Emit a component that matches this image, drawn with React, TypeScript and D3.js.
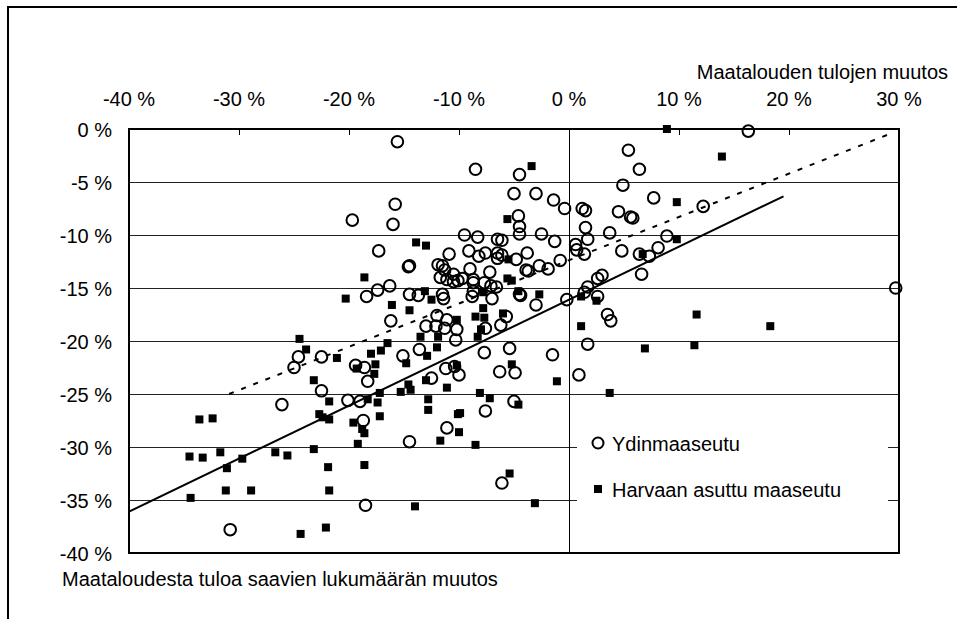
import { useEffect, useRef } from "react";
import * as d3 from "d3";

const xTicks = [-40, -30, -20, -10, 0, 10, 20, 30];
const yTicks = [0, -5, -10, -15, -20, -25, -30, -35, -40];

const xTitle = "Maatalouden tulojen muutos";
const yTitle = "Maataloudesta tuloa saavien lukumäärän muutos";
const seriesNames = ["Ydinmaaseutu", "Harvaan asuttu maaseutu"];

// [tulojen muutos %, lukumäärän muutos %]
const ydinmaaseutu: [number, number][] = [
  [-15.6, -1.2], [-8.5, -3.8], [-4.5, -4.3], [-5.0, -6.1], [-3.0, -6.1], [-1.4, -6.7], [-0.4, -7.5],
  [-15.8, -7.1], [-19.7, -8.6], [-16.0, -9.0], [-4.6, -8.2], [-4.5, -9.2], [-4.5, -9.9], [-2.5, -9.9],
  [-1.3, -10.6], [-9.5, -10.0], [-8.3, -10.2], [-6.5, -10.4], [-6.1, -10.5], [-17.3, -11.5], [-10.9, -11.8],
  [-9.1, -11.5], [-8.2, -12.0], [-7.6, -11.7], [-6.5, -11.7], [-6.1, -11.9], [-6.5, -12.2], [-4.8, -12.3],
  [-3.8, -11.7], [-0.8, -12.4], [-14.5, -12.9], [-14.6, -13.0], [-11.9, -12.8], [-11.5, -12.9], [-11.3, -13.3],
  [-9.0, -13.2], [-7.2, -13.5], [-3.9, -13.3], [-3.7, -13.4], [-2.7, -12.9], [-1.9, -13.2], [-11.7, -14.0],
  [-11.1, -14.2], [-10.5, -13.7], [-10.5, -14.4], [-10.1, -14.3], [-9.7, -14.1], [-8.7, -14.2], [-8.7, -14.5],
  [-7.7, -14.5], [-7.1, -14.8], [-6.6, -14.9], [-17.4, -15.2], [-16.3, -14.8], [-18.4, -15.8], [-14.5, -15.6],
  [-13.7, -15.7], [-11.5, -15.6], [-11.4, -16.0], [-8.8, -15.8], [-8.7, -15.3], [-7.0, -16.0], [-4.5, -15.6],
  [-4.4, -15.7], [-3.0, -16.6], [-0.2, -16.1], [-16.2, -18.1], [-12.0, -17.6], [-13.0, -18.6], [-12.1, -18.6],
  [-11.1, -18.0], [-11.3, -18.8], [-10.2, -18.9], [-10.3, -19.9], [-7.6, -18.8], [-6.2, -18.5], [-5.7, -17.7],
  [16.3, -0.2], [5.4, -2.0], [6.4, -3.8], [4.9, -5.3], [7.7, -6.5], [1.2, -7.5], [1.5, -7.7],
  [4.5, -7.8], [5.6, -8.3], [5.8, -8.4], [12.2, -7.3], [1.5, -9.3], [1.7, -10.4], [3.7, -9.8],
  [8.9, -10.1], [0.6, -10.9], [0.7, -11.4], [1.4, -11.8], [4.8, -11.5], [6.4, -11.8], [7.3, -12.0],
  [8.1, -11.2], [2.6, -14.1], [3.0, -13.8], [6.6, -13.7], [1.7, -14.9], [1.4, -15.4], [2.6, -15.8],
  [3.5, -17.5], [3.8, -18.1], [1.7, -20.3], [29.7, -15.0], [0.9, -23.2],
  [-24.6, -21.5], [-25.0, -22.5], [-22.5, -21.5], [-22.5, -24.7], [-26.1, -26.0], [-30.8, -37.8],
  [-15.1, -21.4], [-13.6, -20.8], [-7.7, -21.1], [-5.4, -20.7], [-1.5, -21.3], [-19.4, -22.3], [-18.6, -22.5],
  [-18.3, -23.8], [-11.2, -22.6], [-10.4, -22.4], [-10.0, -23.2], [-12.5, -23.5], [-6.3, -22.9], [-4.9, -23.0],
  [-20.1, -25.6], [-19.0, -25.7], [-5.0, -25.7], [-7.6, -26.6], [-18.7, -27.5], [-11.1, -28.2], [-14.5, -29.5],
  [-6.1, -33.4], [-18.5, -35.5],
];

const harvaanAsuttu: [number, number][] = [
  [-3.4, -3.5], [-5.6, -8.5], [-13.9, -10.7], [-13.0, -11.0], [-5.5, -12.3], [-18.6, -14.0], [-5.6, -14.1],
  [-5.2, -14.3], [-20.3, -16.0], [-16.1, -16.6], [-14.5, -17.1], [-13.1, -15.3], [-12.5, -16.1], [-7.8, -15.4],
  [-4.6, -15.3], [-2.7, -15.6], [-7.8, -16.9], [-8.5, -17.7], [-7.7, -17.8], [-6.0, -17.4], [-10.2, -18.0],
  [-8.0, -18.9], [-13.5, -19.6], [-11.9, -19.6], [-8.3, -19.6],
  [8.9, 0.0], [13.9, -2.6], [9.8, -6.9], [9.8, -10.4], [6.7, -11.8], [1.1, -15.8], [2.5, -16.2],
  [1.1, -18.6], [11.6, -17.5], [18.3, -18.6],
  [-24.5, -19.8], [-23.9, -20.8], [-21.1, -21.6], [-23.2, -23.7], [-21.8, -25.7], [-22.7, -26.9], [-22.4, -27.2],
  [-21.8, -27.4], [-33.6, -27.4], [-32.4, -27.3], [-34.5, -30.9], [-33.3, -31.0], [-31.7, -30.5], [-31.1, -32.0],
  [-29.7, -31.1], [-26.7, -30.5], [-25.6, -30.8], [-23.2, -30.2], [-21.9, -31.9], [-34.4, -34.8], [-31.2, -34.1],
  [-28.9, -34.1], [-21.8, -34.1], [-24.4, -38.2], [-22.1, -37.6],
  [-16.5, -20.2], [-17.1, -20.9], [-18.0, -21.2], [-17.6, -22.2], [-17.7, -23.1], [-19.3, -22.6], [-14.8, -22.1],
  [-12.9, -21.4], [-12.0, -20.6], [-10.2, -22.3], [-5.2, -22.2], [-1.1, -23.8], [-14.6, -24.1], [-14.4, -24.6],
  [-15.3, -24.8], [-17.2, -24.9], [-13.0, -23.7], [-11.1, -24.4], [-8.1, -24.9], [-7.2, -25.4], [-18.3, -25.5],
  [-17.4, -25.8], [-12.8, -25.5], [-12.8, -26.5], [-4.6, -26.0], [-17.2, -27.1], [-19.6, -27.7], [-18.8, -28.3],
  [-18.6, -28.7], [-10.1, -26.9], [-9.9, -26.8], [-10.0, -28.6], [-11.7, -29.4], [-19.2, -29.7], [-8.5, -29.8],
  [-18.6, -31.7], [-5.4, -32.5], [-14.0, -35.6], [-3.1, -35.3],
  [6.9, -20.7], [11.4, -20.4], [3.7, -24.9],
];

// trend line end points
const trendHarvaan: [number, number][] = [[-40, -36.1], [19.5, -6.35]];
const trendYdin: [number, number][] = [[-30.9, -25.0], [29.2, -0.45]];

const FONT = "'Liberation Sans', Arial, sans-serif";

export default function App() {
  const svgRef = useRef<SVGSVGElement>(null);

  useEffect(() => {
    if (!svgRef.current) return;
    const svg = d3.select(svgRef.current);
    svg.selectAll("*").remove();

    const left = 129, right = 899, top = 129, bottom = 553;

    const x = d3.scaleLinear().domain([-40, 30]).range([left, right]);
    const y = d3.scaleLinear().domain([0, -40]).range([top, bottom]);

    // outer frame
    svg.append("rect")
      .attr("x", 8).attr("y", 7)
      .attr("width", 1000).attr("height", 700)
      .attr("fill", "white")
      .attr("stroke", "#000").attr("stroke-width", 2);

    const g = svg.append("g");

    // gridlines
    g.selectAll(".grid")
      .data(yTicks.slice(1, -1))
      .enter()
      .append("line")
      .attr("x1", left).attr("x2", right)
      .attr("y1", d => Math.round(y(d)) + 0.5)
      .attr("y2", d => Math.round(y(d)) + 0.5)
      .attr("stroke", "#222").attr("stroke-width", 1);

    // zero line
    g.append("line")
      .attr("x1", Math.round(x(0)) + 0.5).attr("x2", Math.round(x(0)) + 0.5)
      .attr("y1", top).attr("y2", bottom)
      .attr("stroke", "#000").attr("stroke-width", 1);

    // top axis ticks
    g.selectAll(".xtick")
      .data(xTicks.slice(1, -1))
      .enter()
      .append("line")
      .attr("x1", d => Math.round(x(d)) + 0.5).attr("x2", d => Math.round(x(d)) + 0.5)
      .attr("y1", top).attr("y2", top + 6)
      .attr("stroke", "#000").attr("stroke-width", 1);

    // tick labels
    g.selectAll(".xlabel")
      .data(xTicks)
      .enter()
      .append("text")
      .attr("x", d => x(d)).attr("y", 106)
      .attr("text-anchor", "middle")
      .attr("font-family", FONT).attr("font-size", 20)
      .text(d => `${d} %`);

    g.selectAll(".ylabel")
      .data(yTicks)
      .enter()
      .append("text")
      .attr("x", 112).attr("y", d => y(d) + 7.5)
      .attr("text-anchor", "end")
      .attr("font-family", FONT).attr("font-size", 20)
      .text(d => `${d} %`);

    g.append("text")
      .attr("x", 948).attr("y", 79)
      .attr("text-anchor", "end")
      .attr("font-family", FONT).attr("font-size", 20)
      .text(xTitle);

    g.append("text")
      .attr("x", 62).attr("y", 586)
      .attr("font-family", FONT).attr("font-size", 20)
      .text(yTitle);

    // points
    g.selectAll(".sq")
      .data(harvaanAsuttu)
      .enter()
      .append("rect")
      .attr("x", d => x(d[0]) - 4).attr("y", d => y(d[1]) - 4)
      .attr("width", 8).attr("height", 8)
      .attr("fill", "#000");

    g.selectAll(".ci")
      .data(ydinmaaseutu)
      .enter()
      .append("circle")
      .attr("cx", d => x(d[0])).attr("cy", d => y(d[1]))
      .attr("r", 5.8)
      .attr("fill", "none")
      .attr("stroke", "#000").attr("stroke-width", 2);

    // trend lines
    const line = d3.line<[number, number]>().x(d => x(d[0])).y(d => y(d[1]));
    g.append("path")
      .datum(trendHarvaan)
      .attr("d", line)
      .attr("fill", "none").attr("stroke", "#000").attr("stroke-width", 2);
    g.append("path")
      .datum(trendYdin)
      .attr("d", line)
      .attr("fill", "none").attr("stroke", "#000").attr("stroke-width", 2)
      .attr("stroke-dasharray", "5,8");

    // plot border
    g.append("rect")
      .attr("x", left).attr("y", top)
      .attr("width", right - left).attr("height", bottom - top)
      .attr("fill", "none").attr("stroke", "#000").attr("stroke-width", 2);

    // legend
    const lg = g.append("g");
    lg.append("rect")
      .attr("x", 577).attr("y", 415)
      .attr("width", 311).attr("height", 110)
      .attr("fill", "white");
    lg.append("circle")
      .attr("cx", 598).attr("cy", 443).attr("r", 5.5)
      .attr("fill", "none").attr("stroke", "#000").attr("stroke-width", 2);
    lg.append("rect")
      .attr("x", 594).attr("y", 485).attr("width", 8).attr("height", 8)
      .attr("fill", "#000");
    lg.selectAll(".lt")
      .data(seriesNames)
      .enter()
      .append("text")
      .attr("x", 612).attr("y", (_d, i) => 450.5 + i * 46)
      .attr("font-family", FONT).attr("font-size", 20)
      .text(d => d);
  }, []);

  return (
    <svg
      ref={svgRef}
      width={957}
      height={619}
      style={{ position: "absolute", left: 0, top: 0, background: "white" }}
    ></svg>
  );
}
